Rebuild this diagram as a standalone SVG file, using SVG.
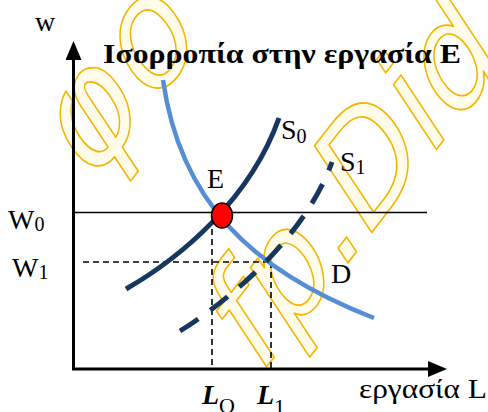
<svg xmlns="http://www.w3.org/2000/svg" width="488" height="412" viewBox="0 0 488 412">
<defs>
<style>
.wm{font-family:"DejaVu Sans",sans-serif;font-weight:normal;font-style:italic;fill:#fffdea;stroke:#f5b400;stroke-width:1.6;stroke-linejoin:round}
.lbl{font-family:"Liberation Serif","Times New Roman",serif;fill:#000;font-size:28px}
.sub{font-size:20px}
.axis{stroke:#000;stroke-width:3;fill:none}
.guide{stroke:#000;stroke-width:1.6;stroke-dasharray:6 4;fill:none}
.curve{fill:none;stroke-linecap:butt}
</style>
<marker id="arrow" markerUnits="userSpaceOnUse" markerWidth="20" markerHeight="17" refX="0" refY="8" orient="auto">
<path d="M0,0 L19,8 L0,16 Z" fill="#000"/>
</marker>
</defs>
<rect width="488" height="412" fill="#fff"/>
<g id="watermark">
<text class="wm" font-size="140" letter-spacing="8" transform="translate(92,183) rotate(-52) skewX(-8)">φο</text>
<text class="wm" font-size="135" transform="translate(261,374) rotate(-52) skewX(-8)">fp.Dida</text>
</g>
<g id="axes">
<line class="axis" x1="73.5" y1="369" x2="73.5" y2="60" marker-end="url(#arrow)"/>
<line class="axis" x1="72" y1="369" x2="428" y2="369" marker-end="url(#arrow)"/>
<text class="lbl" x="35" y="31" font-size="26">w</text>
<text class="lbl" x="359" y="398" font-size="28" textLength="128" lengthAdjust="spacingAndGlyphs">εργασία L</text>
</g>
<g id="connectors">
<line x1="73" y1="212.5" x2="427" y2="212.5" stroke="#000" stroke-width="1.6"/>
<path class="guide" d="M83,262 H270"/>
<path class="guide" d="M212,229 V369"/>
<path class="guide" d="M271,262 V369"/>
<path id="curve-D" class="curve" d="M163,80 C180,200 250,270 374,318" stroke="#558ED5" stroke-width="4.5"/>
<path id="curve-S0" class="curve" d="M126,289 C180,258 250,200 279,118" stroke="#17375E" stroke-width="5"/>
<path id="curve-S1" class="curve" d="M180,331 C230,300 305,237 332,162" stroke="#17375E" stroke-width="5" stroke-dasharray="22 15"/>
</g>
<g id="title">
<text class="lbl" x="103" y="63" font-size="32" font-weight="bold" textLength="358" lengthAdjust="spacingAndGlyphs">Ισορροπία στην εργασία Ε</text>
</g>
<g id="node-E">
<ellipse cx="222" cy="215.5" rx="10.5" ry="12.5" fill="#ff0000" stroke="#000" stroke-width="1.5"/>
<text class="lbl" x="207" y="188" font-size="30">E</text>
</g>
<g id="label-S0"><text class="lbl" x="281" y="139" font-size="30">S<tspan class="sub" dy="4">0</tspan></text></g>
<g id="label-S1"><text class="lbl" x="340" y="171" font-size="30">S<tspan class="sub" dy="3">1</tspan></text></g>
<g id="label-D"><text class="lbl" x="331" y="283" font-size="30">D</text></g>
<g id="label-W0"><text class="lbl" x="8" y="229" font-size="30">W<tspan class="sub" dy="2">0</tspan></text></g>
<g id="label-W1"><text class="lbl" x="12" y="277" font-size="30">W<tspan class="sub" dy="2">1</tspan></text></g>
<g id="label-L0"><text class="lbl" x="202" y="404" font-size="36" font-weight="bold" font-style="italic">L<tspan font-size="22" font-weight="normal" font-style="normal" dy="9">O</tspan></text></g>
<g id="label-L1"><text class="lbl" x="257" y="404" font-size="36" font-weight="bold" font-style="italic">L<tspan font-size="22" font-weight="normal" font-style="normal" dy="10">1</tspan></text></g>
</svg>
